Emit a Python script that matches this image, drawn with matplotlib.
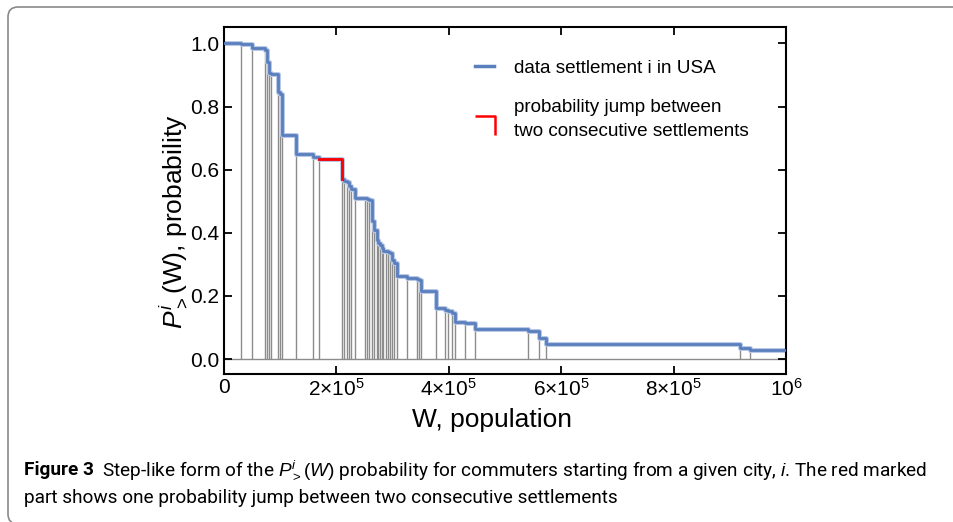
import matplotlib
matplotlib.use('Agg')
import matplotlib.pyplot as plt
from matplotlib.lines import Line2D
from matplotlib.path import Path
from matplotlib.patches import FancyBboxPatch
from matplotlib.transforms import IdentityTransform
import numpy as np

plt.rcParams['font.family'] = ['Liberation Sans', 'DejaVu Sans']
plt.rcParams['mathtext.fontset'] = 'custom'
plt.rcParams['mathtext.rm'] = 'Liberation Sans'
plt.rcParams['mathtext.it'] = 'Liberation Sans:italic'
plt.rcParams['mathtext.bf'] = 'Liberation Sans:bold'

# populations W of the settlements (sorted) and P_>(W) just after each one
population = np.array([
    30.6e3, 51.2e3, 73.8e3, 77.3e3, 81.4e3, 83.9e3, 96.9e3, 100.4e3, 104.0e3,
    128.9e3, 159.6e3, 170.3e3, 210.1e3, 214.2e3, 219.0e3, 223.6e3, 226.7e3,
    232.9e3, 251.6e3, 255.1e3, 259.2e3, 264.5e3, 268.4e3, 272.4e3, 275.2e3,
    278.2e3, 281.2e3, 284.4e3, 288.9e3, 292.4e3, 296.0e3, 299.0e3, 302.6e3,
    307.9e3, 326.8e3, 343.1e3, 348.4e3, 351.1e3, 376.9e3, 393.8e3, 399.6e3,
    405.7e3, 410.7e3, 428.8e3, 446.2e3, 541.9e3, 561.4e3, 573.9e3, 918.2e3,
    936.0e3,
])
prob = np.array([
    0.997, 0.985, 0.980, 0.942, 0.905, 0.902, 0.845, 0.840, 0.711,
    0.648, 0.639, 0.634, 0.570, 0.565, 0.561, 0.547, 0.538,
    0.510, 0.509, 0.507, 0.505, 0.436, 0.410, 0.378, 0.368,
    0.360, 0.352, 0.343, 0.341, 0.339, 0.336, 0.315, 0.304,
    0.264, 0.258, 0.253, 0.250, 0.214, 0.161, 0.156, 0.152,
    0.145, 0.118, 0.114, 0.095, 0.090, 0.068, 0.047, 0.036,
    0.030,
])
p_start = 1.0
w_max = 1e6
jump = 11  # the red marked jump: from settlement 11 to settlement 12

x_ticks = [0, 2e5, 4e5, 6e5, 8e5, 1e6]
x_tick_labels = ['0', '2×10$^5$', '4×10$^5$', '6×10$^5$', '8×10$^5$', '10$^6$']
y_ticks = [0.0, 0.2, 0.4, 0.6, 0.8, 1.0]
y_tick_labels = ['0.0', '0.2', '0.4', '0.6', '0.8', '1.0']

blue = '#5a7fbd'
gray = '#8c8c8c'

fig = plt.figure(figsize=(9.54, 5.22), dpi=100)
ax = fig.add_axes([0.2343, 0.2835, 0.5896, 0.6648])

# gray bars under each settlement
prob_before = np.concatenate([[p_start], prob[:-1]])
ax.vlines(population, 0, prob_before, color=gray, lw=1.0, zorder=1)
ax.hlines(0, 0, w_max, color=gray, lw=1.0, zorder=1)

# step curve
xs = np.concatenate([[0], population, [w_max]])
ys = np.concatenate([[p_start], prob, [prob[-1]]])
ax.step(xs, ys, where='post', color='#b8c8e6', lw=3.6, zorder=2)
ax.step(xs, ys, where='post', color=blue, lw=2.0, zorder=3)

# red jump between two consecutive settlements
ax.plot([population[jump], population[jump + 1], population[jump + 1]],
        [prob[jump], prob[jump], prob[jump + 1]],
        color='red', lw=2.0, zorder=4)

ax.set_xlim(0, w_max)
ax.set_ylim(-0.0475, 1.052)
ax.set_xticks(x_ticks)
ax.set_xticklabels(x_tick_labels)
ax.set_yticks(y_ticks)
ax.set_yticklabels(y_tick_labels)
ax.tick_params(direction='in', top=True, right=True, length=6, width=1.3,
               labelsize=15, pad=3)
for s in ax.spines.values():
    s.set_linewidth(1.5)

ax.set_xlabel('W, population', fontsize=19, labelpad=6)
ax.set_ylabel(r'$P^{i}_{>}$(W), probability', fontsize=19, labelpad=1)
ax.xaxis.label.set_x(0.477)
ax.yaxis.label.set_y(0.44)

corner = Path([(-1, 0.35), (1, 0.35), (1, -1.65)],
              [Path.MOVETO, Path.LINETO, Path.LINETO])
handles = [
    Line2D([], [], color=blue, lw=2.5),
    Line2D([], [], color='red', marker=corner, linestyle='none',
           markersize=23.5, markerfacecolor='none', markeredgewidth=1.8),
]
labels = ['data settlement i in USA',
          'probability jump between\ntwo consecutive settlements']
leg = ax.legend(handles, labels, loc='upper left', bbox_to_anchor=(0.417, 0.955),
                frameon=False, fontsize=13.6, handlelength=1.0, handletextpad=1.05,
                labelspacing=1.15)
for t in leg.get_texts():
    t.set_linespacing(1.55)

# caption
cap_font = ['Liberation Sans Narrow', 'Roboto', 'DejaVu Sans']
cap_size = 13.7
t1 = fig.text(24 / 954, 1 - 470 / 522, 'Figure 3', fontsize=cap_size,
              weight='bold', family=cap_font, va='center')
fig.canvas.draw()
bb = t1.get_window_extent()
fig.text((bb.x1 + 8) / 954, 1 - 470 / 522,
         'Step-like form of the $P^{i}_{>}(W)$ probability for commuters '
         'starting from a given city, $i$. The red marked',
         fontsize=cap_size, family=cap_font, va='center')
fig.text(24 / 954, 1 - 498 / 522,
         'part shows one probability jump between two consecutive settlements',
         fontsize=cap_size, family=cap_font, va='center')

box = FancyBboxPatch((8, -2), 962, 517, boxstyle='round,pad=0,rounding_size=10',
                     transform=IdentityTransform(), fill=False,
                     edgecolor='#8a8a8a', lw=1.2)
fig.add_artist(box)

fig.savefig('out.png', dpi=100)
